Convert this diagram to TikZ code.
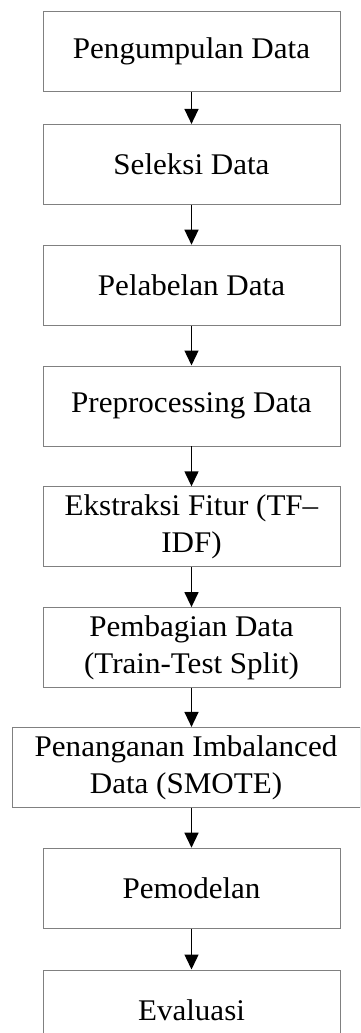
\documentclass[tikz,border=0pt]{standalone}
\usepackage{fontspec}
\setmainfont{Liberation Serif}[FakeStretch=1.035]
\usetikzlibrary{arrows.meta, positioning}

\begin{document}
\begin{tikzpicture}[x=1pt, y=1pt, node distance=40pt,
		every node/.style={font=\fontsize{30}{37}\selectfont},
		tahap/.style={draw=black!50, line width=0.8pt, align=center, minimum width=297pt, minimum height=80pt, inner sep=0pt},
		panah/.style={-{Triangle[length=15pt, width=14pt]}, line width=1.4pt}]
	\useasboundingbox (0,0) rectangle (360,-1033);
	\clip (0,0) rectangle (360,-1033);

	\node[tahap] (kumpul)                          at (191.5,-51.5) {Pengumpulan Data};
	\node[tahap] (seleksi)   [below=32pt of kumpul]    {Seleksi Data};
	\node[tahap] (label)     [below=of seleksi]        {Pelabelan Data};
	\node[tahap] (prepro)    [below=of label]          {Preprocessing Data};
	\node[tahap] (fitur)     [below=of prepro]         {Ekstraksi Fitur (TF–\\IDF)};
	\node[tahap] (bagi)      [below=of fitur]          {Pembagian Data\\(Train-Test Split)};
	\node[tahap, minimum width=348pt] (smote) [below=39pt of bagi, xshift=-5.5pt] {Penanganan Imbalanced\\Data (SMOTE)};
	\node[tahap] (model)     [below=of smote, xshift=5.5pt] {Pemodelan};
	\node[tahap] (evaluasi)  [below=41pt of model]     {Evaluasi};

	\foreach \a/\b in {kumpul/seleksi, seleksi/label, label/prepro, prepro/fitur,
			fitur/bagi, bagi/smote, smote/model, model/evaluasi}
		\draw[panah] (\a.south -| kumpul) -- (\b.north -| kumpul);
\end{tikzpicture}
\end{document}
